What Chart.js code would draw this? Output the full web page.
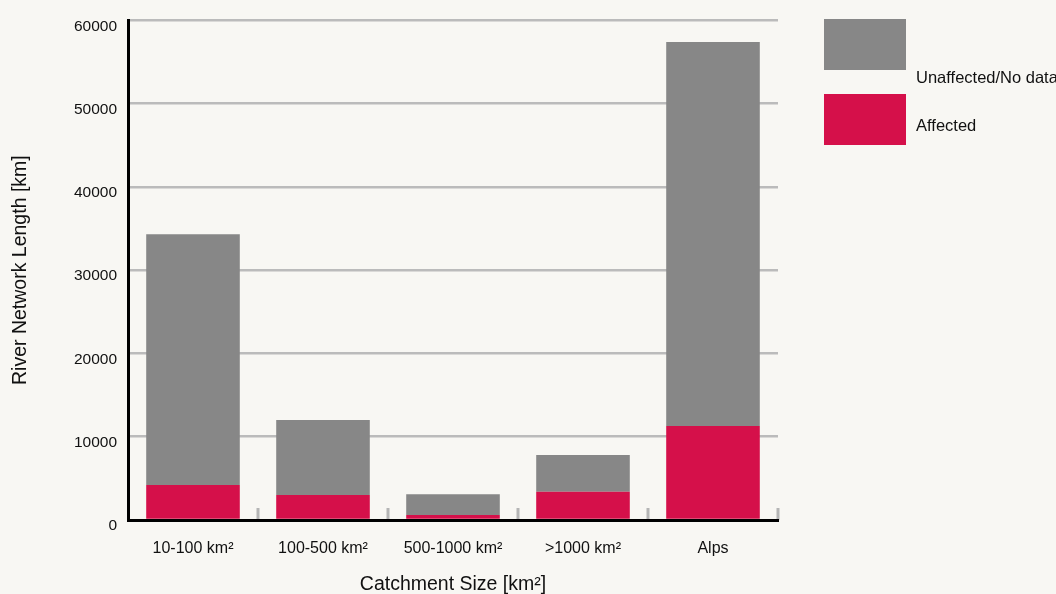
<!DOCTYPE html>
<html>
<head>
<meta charset="utf-8">
<script src="https://cdn.jsdelivr.net/npm/chart.js@4/dist/chart.umd.min.js"></script>
<style>
  html, body { margin: 0; padding: 0; background: #f8f7f3; }
  #wrap { width: 1056px; height: 594px; }
</style>
</head>
<body>
<div id="wrap"><canvas id="chart"></canvas></div>
<script>
// data
const categories = ['10-100 km²', '100-500 km²', '500-1000 km²', '>1000 km²', 'Alps'];
const affected = [4200, 3000, 600, 3400, 11300];
const unaffected = [30100, 9000, 2500, 4400, 46100];
const yTicks = [0, 10000, 20000, 30000, 40000, 50000, 60000];

const font = "'Liberation Sans', Arial, sans-serif";

// boundary ticks between categories, drawn upward from the x axis
const boundaryTicks = {
  id: 'boundaryTicks',
  afterDatasetsDraw(chart) {
    const x = chart.scales.x, ctx = chart.ctx;
    const step = x.width / categories.length;
    ctx.save();
    ctx.strokeStyle = '#b5b5b5';
    ctx.lineWidth = 3;
    for (let i = 1; i <= categories.length; i++) {
      const px = x.left + step * i;
      ctx.beginPath();
      ctx.moveTo(px, x.top - 12);
      ctx.lineTo(px, x.top);
      ctx.stroke();
    }
    ctx.restore();
  }
};

// legend boxes on the right, top dataset first
const sideLegend = {
  id: 'sideLegend',
  afterDraw(chart) {
    const ctx = chart.ctx;
    const sets = chart.data.datasets.slice().reverse();
    const textDy = [59, 32];
    ctx.save();
    ctx.font = '16.5px ' + font;
    ctx.textBaseline = 'middle';
    sets.forEach((ds, i) => {
      const top = 19 + i * 75;
      ctx.fillStyle = ds.backgroundColor;
      ctx.fillRect(824, top, 82, 51);
      ctx.fillStyle = '#111';
      ctx.fillText(ds.label, 916, top + textDy[i]);
    });
    ctx.restore();
  }
};

const background = {
  id: 'background',
  beforeDraw(chart) {
    const ctx = chart.ctx;
    ctx.save();
    ctx.fillStyle = '#f8f7f3';
    ctx.fillRect(0, 0, chart.width, chart.height);
    ctx.restore();
  }
};

const data = {
  labels: categories,
  datasets: [
    {
      label: 'Affected',
      data: affected,
      backgroundColor: '#d5104a',
      barPercentage: 0.72,
      categoryPercentage: 1,
    },
    {
      label: 'Unaffected/No data',
      data: unaffected,
      backgroundColor: '#878787',
      barPercentage: 0.72,
      categoryPercentage: 1,
    },
  ],
};

const config = {
  type: 'bar',
  data: data,
  plugins: [background, boundaryTicks, sideLegend],
  options: {
    responsive: true,
    maintainAspectRatio: false,
    animation: false,
    layout: { padding: { top: 20, right: 278, left: 0, bottom: 0 } },
    plugins: {
      legend: { display: false },
      tooltip: { enabled: false },
    },
    scales: {
      x: {
        stacked: true,
        border: { color: '#000', width: 3, z: 1 },
        grid: { display: false },
        ticks: { color: '#111', font: { family: font, size: 16 }, padding: 11 },
        title: {
          display: true,
          text: 'Catchment Size [km²]',
          color: '#111',
          font: { family: font, size: 19.5, lineHeight: 1 },
          padding: 0,
        },
        afterFit(scale) { scale.height = 74; },
      },
      y: {
        stacked: true,
        min: 0,
        max: 60000,
        afterBuildTicks(scale) { scale.ticks = yTicks.map(v => ({ value: v })); },
        border: { color: '#000', width: 3, z: 1 },
        grid: { color: '#bbbbbb', lineWidth: 2.5, drawTicks: false },
        ticks: {
          color: '#111',
          font: { family: font, size: 15.5 },
          padding: 11,
          labelOffset: 6,
          callback: v => String(v),
        },
        title: {
          display: true,
          text: 'River Network Length [km]',
          color: '#111',
          font: { family: font, size: 19.5 },
          padding: { top: 9 },
        },
        afterFit(scale) { scale.width = 128; },
      },
    },
  },
};

new Chart(document.getElementById('chart'), config);
</script>
</body>
</html>
